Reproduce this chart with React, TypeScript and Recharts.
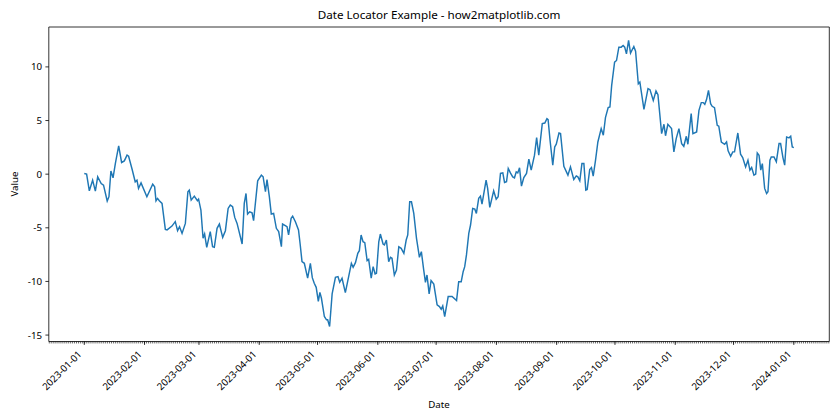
import React from 'react';
import { LineChart, Line, XAxis, YAxis, ReferenceLine } from 'recharts';

// Days since 2023-01-01 (positions) and the series values
const dayOffsets = [
  0, 1.2, 2.6, 4.3, 5.7, 6.9, 8.7, 9.9, 11.8, 12.7, 13.7, 14.8, 16, 17.7, 19.2, 20.6, 22, 22.8, 24.5, 26.2,
  27.1, 27.9, 29.2, 32.2, 35.2, 36.2, 36.9, 37.7, 38.6, 40, 41.7, 42.6, 45.1, 46.8, 48, 49, 50.3, 52, 53.3, 54,
  55, 56.6, 58.2, 58.8, 60, 61.1, 61.9, 63, 64.8, 66, 66.9, 68.3, 69.5, 71.2, 72.6, 74, 75.1, 76.3, 77.4, 78.6,
  81.2, 82.3, 83.2, 84, 85.1, 86.3, 87.1, 89.2, 91.1, 92, 93.2, 94, 95.2, 96.2, 97.4, 98.8, 100, 101.4, 102, 103.4,
  104.3, 105.1, 106.4, 107.2, 108.6, 110.2, 111.1, 112, 113.2, 114.9, 116.3, 117.3, 118.3, 119.3, 120.4, 121.2, 122, 123.5, 124.6, 125.2,
  126.2, 127.5, 129.2, 130.5, 131.4, 132.6, 134.3, 136, 137.4, 138.3, 139.5, 140.7, 141.5, 142.4, 143.4, 144.3, 145.5, 146.3, 147.6, 148.6,
  149.6, 150.3, 151.5, 152.3, 153.7, 154.4, 155.4, 156.6, 157.5, 158.3, 159.5, 160.6, 161.8, 163, 164.4, 165.6, 166.4, 167.4, 168.3, 169.5,
  170.9, 172.4, 173.4, 174.6, 175.5, 176.3, 177.4, 178.4, 179.8, 181.5, 182.7, 183.6, 184.4, 185.4, 187.2, 189.2, 191.5, 192.6, 193.9, 194.9,
  195.7, 196.6, 197.8, 198.7, 199.8, 200.9, 201.7, 202.9, 203.8, 204.6, 206.7, 207.5, 208.6, 210.6, 211.9, 212.9, 214.1, 215.3, 216.2, 217.2,
  218.1, 219.2, 220.4, 221.3, 222.2, 223, 223.9, 224.9, 226.1, 227.5, 228.7, 229.9, 231.6, 232.7, 233.8, 235.6, 236.9, 238, 238.6, 239.6,
  241, 242, 242.8, 244.2, 245, 246.7, 248.8, 250.1, 251.8, 253.1, 253.9, 254.9, 256, 257, 258, 258.7, 260, 260.9, 261.8, 263,
  264.2, 265.9, 267, 268.1, 269.5, 270.4, 271.3, 272.8, 273.8, 275, 276.2, 277.2, 278, 278.9, 280, 281, 282.7, 283.6, 285, 285.8,
  287.9, 290, 291, 292.7, 294.1, 295.1, 297, 298.2, 299, 300.2, 302.1, 303.3, 304.5, 305.9, 307.3, 308.4, 309.7, 310.5, 312.2, 313.1,
  315, 316.2, 317.4, 318.4, 319.2, 320.1, 321.1, 322.2, 323, 324.2, 325.6, 326.4, 327.7, 329.4, 330.4, 331.2, 332.5, 333.6, 334.5, 336.2,
  337.6, 338.7, 340.2, 341.4, 342.4, 343.3, 344.5, 345.4, 346.2, 347.1, 348, 348.8, 350, 351, 351.7, 352.7, 353.4, 354.8, 356, 357.4,
  358.2, 359.4, 360.3, 361.3, 362.5, 363.4, 364.2, 365,
];

const values = [
  0.06, 0, -1.55, -0.56, -1.58, -0.25, -0.87, -1.02, -2.5, -2.1, 0.3, -0.34, 1.0, 2.63, 1.09, 1.24, 1.77, 1.67, 0.53, -0.71,
  -0.56, -1.33, -0.81, -2.11, -0.93, -1.18, -2.48, -2.26, -2.48, -2.73, -5.15, -5.2, -4.84, -4.43, -5.27, -4.9, -5.52, -4.59, -1.64, -1.49,
  -2.42, -2.05, -2.48, -2.33, -3.35, -5.98, -5.58, -6.82, -5.36, -6.76, -6.82, -5.05, -4.65, -5.89, -5.27, -3.19, -2.88, -3.04, -4.03, -4.59,
  -6.51, -2.73, -1.8, -3.72, -3.51, -3.6, -4.34, -0.62, -0.09, -0.25, -1.64, -0.5, -2.1, -3.72, -3.66, -5.05, -5.36, -6.76, -4.65, -4.8,
  -4.9, -5.67, -4.12, -3.91, -4.43, -5.2, -6.6, -8.16, -8.31, -9.7, -8.31, -9.65, -10.17, -10.55, -11.85, -11.02, -11.57, -13.27, -13.58, -13.58,
  -14.2, -11.16, -9.61, -9.55, -10.08, -9.7, -11.04, -9.55, -8.31, -8.68, -8.25, -7.38, -7.13, -5.67, -6.3, -6.39, -8.06, -7.94, -9.7, -8.62,
  -9.3, -9.24, -6.3, -5.58, -6.51, -6.6, -6.14, -8.16, -7.75, -7.84, -9.4, -8.93, -6.76, -6.91, -7.38, -6.14, -5.67, -2.57, -2.57, -3.66,
  -5.98, -7.75, -7.22, -8.93, -10.08, -9.4, -11.16, -9.92, -10.25, -12.19, -12.34, -12.59, -12.28, -13.27, -11.41, -11.41, -11.78, -10.02, -10.02, -9.09,
  -8.62, -7.53, -5.52, -4.74, -3.19, -3.26, -3.66, -2.26, -2.05, -2.79, -0.56, -1.33, -3.1, -1.55, -2.33, -2.11, 0.07, 0.12, -0.77, -0.71,
  0.53, 0.12, -0.25, -0.34, 0.22, 0.12, 0.59, -1.12, -0.31, 0.07, 1.4, 0.37, 1.77, 3.41, 1.77, 4.71, 4.77, 5.18, 5.09, 3.16,
  0.84, 2.54, 2.79, 3.84, 3.78, 0.74, -0.09, 0.68, -0.5, -0.16, -0.25, -0.62, 0.99, 0.99, -1.49, -1.43, 0.43, 0.62, -0.19, 1.3,
  3.0, 4.25, 3.63, 5.27, 6.2, 6.26, 8.28, 10.45, 10.6, 11.84, 11.84, 12.0, 11.84, 11.22, 12.47, 11.28, 11.9, 11.47, 8.43, 8.59,
  6.05, 7.97, 7.88, 6.88, 7.75, 7.41, 3.78, 4.65, 3.58, 4.65, 4.25, 2.08, 3.32, 4.25, 2.85, 2.6, 3.53, 2.79, 5.64, 3.78,
  3.94, 5.95, 6.67, 6.67, 6.51, 6.95, 7.81, 6.57, 6.33, 6.2, 4.56, 4.47, 3.0, 2.79, 3.0, 2.17, 1.67, 2.08, 2.08, 3.84,
  1.86, 1.55, 0.68, 1.3, 0.37, 0.62, -0.09, 0, 1.98, 1.77, 0.37, 0.99, -1.33, -1.8, -1.64, 1.3, 1.61, 1.61, 1.15, 2.85,
  2.85, 1.55, 0.84, 3.47, 3.38, 3.53, 2.54, 2.48,
];

const monthTickDays = [0, 31, 59, 90, 120, 151, 181, 212, 243, 273, 304, 334, 365];
const monthTickLabels = [
  '2023-01-01', '2023-02-01', '2023-03-01', '2023-04-01', '2023-05-01', '2023-06-01', '2023-07-01',
  '2023-08-01', '2023-09-01', '2023-10-01', '2023-11-01', '2023-12-01', '2024-01-01',
];
const valueTicks = [-15, -10, -5, 0, 5, 10];
// daily minor ticks across the visible range
const dailyTickDays = Array.from({ length: 402 }, (_, i) => i - 18);

const data = dayOffsets.map((d, i) => ({ day: d, value: values[i] }));

const FONT = "'Noto Sans', 'DejaVu Sans', sans-serif";
const X_DOMAIN: [number, number] = [-18.25, 383.25];
const Y_DOMAIN: [number, number] = [-15.6, 13.72];
const MINOR_LEN = 1.94;
const MAJOR_LEN = 3.4;

const DateTick = (props: any) => {
  const { x, y, payload } = props;
  const idx = monthTickDays.indexOf(payload.value);
  if (idx < 0) return <g />;
  const axisY = y - MINOR_LEN;
  return (
    <g>
      <line x1={x} x2={x} y1={axisY} y2={axisY + MAJOR_LEN} stroke="#000" strokeWidth={0.8} />
      <text
        x={0}
        y={0}
        transform={`translate(${x - 2},${axisY + MAJOR_LEN + 10}) rotate(-45)`}
        textAnchor="end"
        fontSize={9.72}
        fontFamily={FONT}
        fill="#000"
      >
        {monthTickLabels[idx]}
      </text>
    </g>
  );
};

export default function App() {
  return (
    <div style={{ position: 'absolute', left: 0, top: 0, width: 840, height: 420, background: '#fff' }}>
      <LineChart
        width={840}
        height={420}
        data={data}
        margin={{ top: 27, right: 10.7, bottom: 0, left: 0 }}
      >
        <XAxis
          dataKey="day"
          type="number"
          domain={X_DOMAIN}
          allowDataOverflow
          ticks={dailyTickDays}
          interval={0}
          tick={<DateTick />}
          tickLine={{ stroke: '#000', strokeWidth: 0.6 }}
          tickSize={MINOR_LEN}
          tickMargin={0}
          axisLine={{ stroke: '#000', strokeWidth: 0.8 }}
          height={78.5}
        />
        <YAxis
          type="number"
          domain={Y_DOMAIN}
          allowDataOverflow
          ticks={valueTicks}
          interval={0}
          tick={{ fontSize: 9.72, fontFamily: FONT, fill: '#000' }}
          tickLine={{ stroke: '#000', strokeWidth: 0.8 }}
          tickSize={3.4}
          tickMargin={3.4}
          axisLine={{ stroke: '#000', strokeWidth: 0.8 }}
          width={48.8}
        />
        <ReferenceLine y={Y_DOMAIN[1]} stroke="#000" strokeWidth={0.8} ifOverflow="visible" />
        <ReferenceLine x={X_DOMAIN[1]} stroke="#000" strokeWidth={0.8} ifOverflow="visible" />
        <Line
          type="linear"
          dataKey="value"
          stroke="#1f77b4"
          strokeWidth={1.46}
          dot={false}
          isAnimationActive={false}
        />
      </LineChart>
      <svg
        width={840}
        height={420}
        style={{ position: 'absolute', left: 0, top: 0, pointerEvents: 'none' }}
      >
        <text x={439} y={18.5} textAnchor="middle" fontSize={11.67} fontFamily={FONT} fill="#000">
          Date Locator Example - how2matplotlib.com
        </text>
        <text x={439} y={408} textAnchor="middle" fontSize={9.72} fontFamily={FONT} fill="#000">
          Date
        </text>
        <text
          x={0}
          y={0}
          transform="translate(17.5,184) rotate(-90)"
          textAnchor="middle"
          fontSize={9.72}
          fontFamily={FONT}
          fill="#000"
        >
          Value
        </text>
      </svg>
    </div>
  );
}
